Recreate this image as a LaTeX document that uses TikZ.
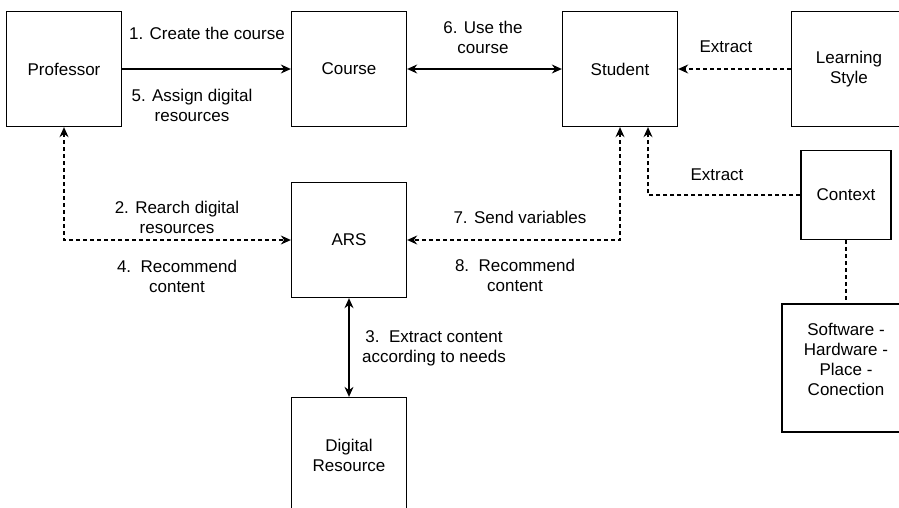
\documentclass[tikz,border=0pt]{standalone}
\usepackage{fontspec}
\setmainfont{Liberation Sans}
\usetikzlibrary{arrows.meta}
\tikzset{box/.style={draw, line width=1.3pt, minimum width=115pt, minimum height=115pt, inner sep=0pt, align=center},
lbl/.style={align=center, inner sep=0pt},
conn/.style={line width=1.3pt, >={Stealth[length=10pt,width=9pt]}},
dsh/.style={conn, dash pattern=on 4pt off 3pt}}
\begin{document}
\begin{tikzpicture}[x=1pt,y=-1pt,font=\fontsize{17}{20}\selectfont]
\useasboundingbox (0,0) rectangle (899,507);
\node [box] (prof) at (64,69) {Professor}; \node [box] (course) at (349,69) {Course};
\node [box] (student) at (620,69) {Student}; \node [box] (style) at (849,69) {Learning\\Style};
\node [box, minimum width=90pt, minimum height=89pt] (context) at (846,195) {Context};
\node [box] (ars) at (349,240) {ARS}; \node [box] (digital) at (349,455) {Digital\\Resource};
\node [box, minimum width=128pt, minimum height=128pt] (soft) at (846,368) {};
\node [lbl] (softtxt) at ([yshift=9pt]soft.center) {Software -\\Hardware -\\Place -\\Conection};

\draw [conn,->] (prof) -- (course); \draw [conn,<->] (course) -- (student);
\draw [dsh,->] (style) -- (student);
\draw [dsh,->] (context.west) -| ([xshift=28pt]student.south);
\draw [dsh,<->] (student.south) |- (ars.east); \draw [dsh,<->] (prof.south) |- (ars.west);
\draw [conn,<->] (ars) -- (digital); \draw [dsh] (context) -- (soft);

\node [lbl] (l1) at (207,33) {1. Create the course}; \node [lbl] (l5) at (192,105) {5. Assign digital\\resources};
\node [lbl] (l6) at (483,37) {6. Use the\\course};
\node [lbl] (lx1) at (726,47) {Extract}; \node [lbl] (lx2) at (717,175) {Extract};
\node [lbl] (l2) at (177,217) {2. Rearch digital\\resources}; \node [lbl] (l4) at (177,276) {4.\ \ Recommend\\content};
\node [lbl] (l7) at (520,217) {7. Send variables}; \node [lbl] (l8) at (515,275) {8.\ \ Recommend\\content};
\node [lbl] (l3) at (434,348) {3.\ \ Extract content\\according to needs};
\end{tikzpicture}
\end{document}
